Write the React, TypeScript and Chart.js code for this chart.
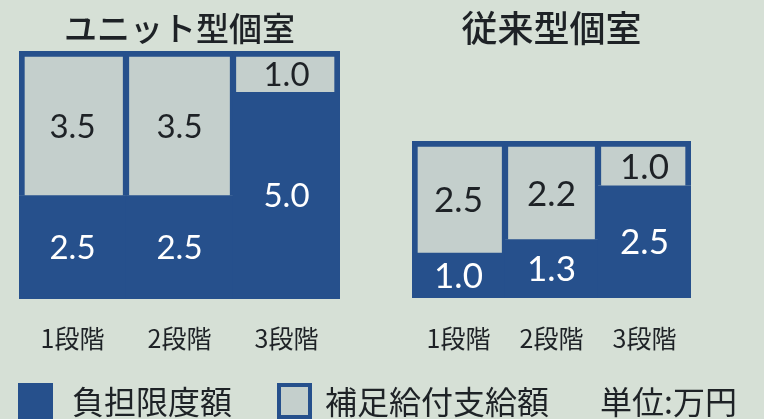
import React, { useEffect, useRef } from "react";
import { Chart, registerables } from "chart.js";

Chart.register(...registerables);

// ---- data ----
const categories = ["1段階", "2段階", "3段階"];
const unitLimit = [2.5, 2.5, 5.0];
const unitSupplement = [3.5, 3.5, 1.0];
const conventionalLimit = [1.0, 1.3, 2.5];
const conventionalSupplement = [2.5, 2.2, 1.0];
const seriesNames = ["負担限度額", "補足給付支給額"];
const groupTitles = ["ユニット型個室", "従来型個室"];
const unitNote = "単位:万円";

// ---- style ----
const BLUE = "#26508c";
const LIGHT = "#c4cfcc";
const BG = "#d6e0d6";
const TEXT = "#1e2226";
const JP = "'Noto Sans CJK JP', 'Noto Sans', sans-serif";
const NUM = "Lato, 'Noto Sans', sans-serif";

const valueLabels = {
  id: "valueLabels",
  afterDatasetsDraw(chart: any, _args: any, opts: any) {
    const ctx = chart.ctx;
    ctx.save();
    ctx.font = `${opts.size}px ${NUM}`;
    ctx.textAlign = "center";
    ctx.textBaseline = "middle";
    chart.data.datasets.forEach((ds: any, i: number) => {
      const meta = chart.getDatasetMeta(i);
      meta.data.forEach((el: any, j: number) => {
        const v = ds.data[j] as number;
        const p = el.getProps(["x", "y", "base"], true);
        const top = i === 1 ? p.y + 6 : p.y;
        ctx.fillStyle = i === 0 ? "#ffffff" : TEXT;
        ctx.fillText(v.toFixed(1), p.x, (top + p.base) / 2 + 1);
      });
    });
    ctx.restore();
  },
};

function makeConfig(
  limit: number[],
  supp: number[],
  title: string,
  o: {
    max: number;
    left: number;
    right: number;
    bottom: number;
    titleSize: number;
    titleTop: number;
    titleBottom: number;
    tickPad: number;
    labelSize: number;
  }
): any {
  const last = categories.length - 1;
  return {
    type: "bar",
    data: {
      labels: categories,
      datasets: [
        {
          label: seriesNames[0],
          data: limit,
          backgroundColor: BLUE,
          borderWidth: 0,
        },
        {
          label: seriesNames[1],
          data: supp,
          backgroundColor: LIGHT,
          borderColor: BLUE,
          borderSkipped: false,
          borderWidth: (c: any) => ({
            top: 6,
            bottom: 0,
            left: c.dataIndex === 0 ? 6 : 3.5,
            right: c.dataIndex === last ? 6 : 3.5,
          }),
        },
      ],
    },
    options: {
      animation: false,
      responsive: false,
      events: [],
      datasets: { bar: { barPercentage: 1, categoryPercentage: 1 } },
      layout: { padding: { left: o.left, right: o.right, top: 0, bottom: o.bottom } },
      plugins: {
        legend: { display: false },
        tooltip: { enabled: false },
        title: {
          display: true,
          text: title,
          color: TEXT,
          font: { family: JP, size: o.titleSize, weight: "500", lineHeight: 1 },
          padding: { top: o.titleTop, bottom: o.titleBottom },
        },
        valueLabels: { size: o.labelSize },
      },
      scales: {
        x: {
          stacked: true,
          grid: { display: false, drawTicks: false },
          border: { display: false },
          ticks: {
            color: TEXT,
            padding: o.tickPad,
            font: { family: JP, size: 25, lineHeight: 1.2 },
          },
        },
        y: { stacked: true, display: false, min: 0, max: o.max },
      },
    },
    plugins: [valueLabels],
  };
}

function BarCanvas({ config, left }: { config: any; left: number }) {
  const ref = useRef<HTMLCanvasElement>(null);
  useEffect(() => {
    if (!ref.current) return;
    const chart = new Chart(ref.current, config);
    return () => chart.destroy();
  }, [config]);
  return (
    <canvas
      ref={ref}
      width={382}
      height={380}
      style={{ position: "absolute", left, top: 0, width: 382, height: 380 }}
    />
  );
}

const unitConfig = makeConfig(unitLimit, unitSupplement, groupTitles[0], {
  max: 6.0,
  left: 19,
  right: 42,
  bottom: 3,
  titleSize: 33,
  titleTop: 12,
  titleBottom: 6,
  tickPad: 24,
  labelSize: 33,
});

const convConfig = makeConfig(conventionalLimit, conventionalSupplement, groupTitles[1], {
  max: 3.5,
  left: 30,
  right: 73,
  bottom: 2,
  titleSize: 36,
  titleTop: 10,
  titleBottom: 95,
  tickPad: 25,
  labelSize: 35,
});

export default function App() {
  useEffect(() => {
    document.body.style.margin = "0";
    document.body.style.background = BG;
  }, []);

  const textStyle: React.CSSProperties = {
    position: "absolute",
    top: 384,
    fontFamily: JP,
    fontSize: 32,
    lineHeight: "32px",
    color: TEXT,
    whiteSpace: "nowrap",
  };

  return (
    <div
      style={{
        position: "relative",
        width: 764,
        height: 419,
        background: BG,
        overflow: "hidden",
      }}
    >
      <BarCanvas config={unitConfig} left={0} />
      <BarCanvas config={convConfig} left={382} />
      <div
        style={{
          position: "absolute",
          left: 18,
          top: 383,
          width: 35,
          height: 36,
          background: BLUE,
        }}
      />
      <div style={{ ...textStyle, left: 72 }}>{seriesNames[0]}</div>
      <div
        style={{
          position: "absolute",
          left: 277,
          top: 383,
          width: 35,
          height: 36,
          boxSizing: "border-box",
          border: `4px solid ${BLUE}`,
          background: LIGHT,
        }}
      />
      <div style={{ ...textStyle, left: 325 }}>{seriesNames[1]}</div>
      <div style={{ ...textStyle, left: 600 }}>{unitNote}</div>
    </div>
  );
}
